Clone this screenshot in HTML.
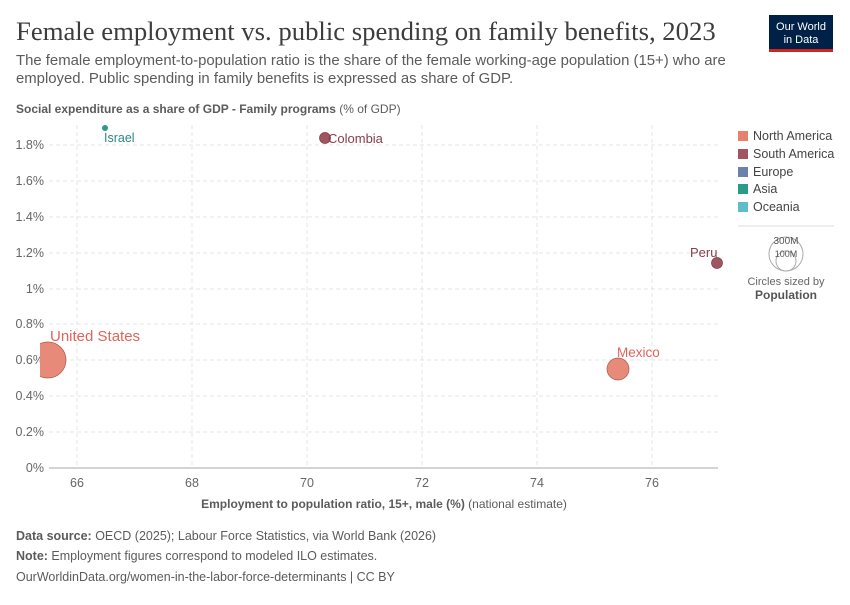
<!DOCTYPE html>
<html><head><meta charset="utf-8"><style>
body{margin:0;background:#fff;font-family:"Liberation Sans",sans-serif;}
</style></head><body>
<svg width="850" height="600" xmlns="http://www.w3.org/2000/svg" font-family="Liberation Sans, sans-serif">
<rect width="850" height="600" fill="#fff"/>
<text x="16" y="40" font-family="Liberation Serif, serif" font-size="26.7" fill="#3d3d3d">Female employment vs. public spending on family benefits, 2023</text>
<rect x="769" y="15" width="64" height="36" fill="#002147"/>
<rect x="769" y="49" width="64" height="3" fill="#ce261e"/>
<text x="801" y="30" font-size="11" fill="#fff" text-anchor="middle">Our World</text>
<text x="801" y="43" font-size="11" fill="#fff" text-anchor="middle">in Data</text>
<text x="16" y="65" font-size="14.9" fill="#5b5b5b">The female employment-to-population ratio is the share of the female working-age population (15+) who are</text>
<text x="16" y="83" font-size="14.9" fill="#5b5b5b">employed. Public spending in family benefits is expressed as share of GDP.</text>
<text x="16" y="113" font-size="12" fill="#5b5b5b"><tspan font-weight="bold">Social expenditure as a share of GDP - Family programs</tspan> (% of GDP)</text>
<g stroke="#e4e4e4" stroke-dasharray="4,3" stroke-width="1">
<line x1="49" y1="432" x2="718" y2="432"/><line x1="49" y1="396" x2="718" y2="396"/>
<line x1="49" y1="360" x2="718" y2="360"/><line x1="49" y1="324" x2="718" y2="324"/>
<line x1="49" y1="289" x2="718" y2="289"/><line x1="49" y1="253" x2="718" y2="253"/>
<line x1="49" y1="217" x2="718" y2="217"/><line x1="49" y1="181" x2="718" y2="181"/>
<line x1="49" y1="145" x2="718" y2="145"/>
<line x1="77" y1="125" x2="77" y2="468"/><line x1="192" y1="125" x2="192" y2="468"/>
<line x1="307" y1="125" x2="307" y2="468"/><line x1="422" y1="125" x2="422" y2="468"/>
<line x1="537" y1="125" x2="537" y2="468"/><line x1="652" y1="125" x2="652" y2="468"/>
</g>
<line x1="49" y1="468" x2="718" y2="468" stroke="#aaa"/>
<g font-size="12.5" fill="#666" text-anchor="end">
<text x="44" y="472">0%</text><text x="44" y="436">0.2%</text><text x="44" y="400">0.4%</text>
<text x="44" y="364">0.6%</text><text x="44" y="328">0.8%</text><text x="44" y="293">1%</text>
<text x="44" y="257">1.2%</text><text x="44" y="221">1.4%</text><text x="44" y="185">1.6%</text>
<text x="44" y="149">1.8%</text>
</g>
<g font-size="12.5" fill="#666" text-anchor="middle">
<text x="77" y="487">66</text><text x="192" y="487">68</text><text x="307" y="487">70</text>
<text x="422" y="487">72</text><text x="537" y="487">74</text><text x="652" y="487">76</text>
</g>
<text x="384" y="508" font-size="12" fill="#5b5b5b" text-anchor="middle"><tspan font-weight="bold">Employment to population ratio, 15+, male (%)</tspan> (national estimate)</text>
<defs><clipPath id="c"><rect x="40" y="100" width="690" height="370"/></clipPath></defs>
<g clip-path="url(#c)" stroke-width="0.7">
<circle cx="48" cy="360" r="18" fill="#e88a7a" stroke="#a85a4e"/>
<circle cx="618" cy="369" r="11" fill="#e88a7a" stroke="#a85a4e"/>
<circle cx="717" cy="263" r="5.5" fill="#a2555f" stroke="#7a3e46"/>
<circle cx="325" cy="138" r="5.5" fill="#a2555f" stroke="#7a3e46"/>
<circle cx="105" cy="128" r="3" fill="#2a9a8a"/>
</g>
<text x="50" y="341" font-size="15" fill="#e0645a">United States</text>
<text x="617" y="357" font-size="13.5" fill="#e0645a">Mexico</text>
<text x="690" y="257" font-size="13" fill="#8a3c47">Peru</text>
<text x="328" y="143" font-size="13" fill="#8a3c47">Colombia</text>
<text x="104" y="142" font-size="12.5" fill="#2a8a80">Israel</text>
<g font-size="12.5" fill="#444">
<rect x="738" y="131" width="10" height="10" fill="#e8806f"/><text x="753" y="140">North America</text>
<rect x="738" y="149" width="10" height="10" fill="#a2555f"/><text x="753" y="158">South America</text>
<rect x="738" y="167" width="10" height="10" fill="#6a81ad"/><text x="753" y="176">Europe</text>
<rect x="738" y="184" width="10" height="10" fill="#2a9a8a"/><text x="753" y="193">Asia</text>
<rect x="738" y="202" width="10" height="10" fill="#5dbdc8"/><text x="753" y="211">Oceania</text>
</g>
<line x1="738" y1="226" x2="834" y2="226" stroke="#ddd"/>
<circle cx="786" cy="254" r="17" fill="none" stroke="#aaa"/>
<circle cx="786" cy="261" r="10" fill="none" stroke="#aaa"/>
<text x="786" y="244" font-size="10" fill="#555" text-anchor="middle">300M</text>
<text x="786" y="257" font-size="9" fill="#555" text-anchor="middle">100M</text>
<text x="786" y="285" font-size="11" fill="#666" text-anchor="middle">Circles sized by</text>
<text x="786" y="299" font-size="12" font-weight="bold" fill="#555" text-anchor="middle">Population</text>
<g font-size="12.5" fill="#5b5b5b">
<text x="16" y="540"><tspan font-weight="bold">Data source:</tspan> OECD (2025); Labour Force Statistics, via World Bank (2026)</text>
<text x="16" y="560"><tspan font-weight="bold">Note:</tspan> Employment figures correspond to modeled ILO estimates.</text>
<text x="16" y="581">OurWorldinData.org/women-in-the-labor-force-determinants | CC BY</text>
</g>
</svg>
</body></html>
